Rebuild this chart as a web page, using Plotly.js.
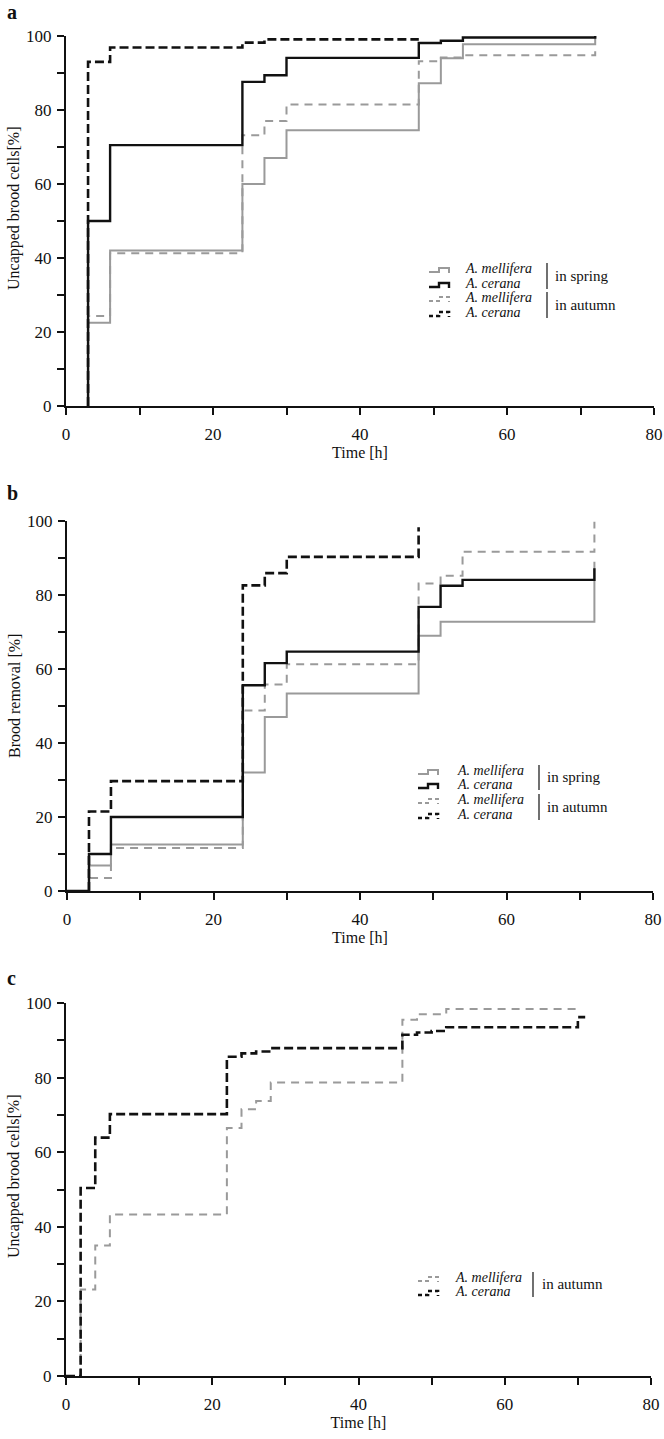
<!DOCTYPE html>
<html>
<head>
<meta charset="utf-8">
<script src="https://cdn.plot.ly/plotly-3.0.1.min.js"></script>
<style>html,body{margin:0;padding:0;background:#fff;}#chart{width:664px;height:1439px;}</style>
</head>
<body>
<div id="chart"></div>
<script>
// ---------- data ----------
const xTickVals = [0, 20, 40, 60, 80];
const yTickVals = [0, 20, 40, 60, 80, 100];
const seriesNames = ["A. mellifera", "A. cerana"];
const seasonLabels = ["in spring", "in autumn"];
const panelLabels = ["a", "b", "c"];
const yTitles = ["Uncapped brood cells[%]", "Brood removal [%]", "Uncapped brood cells[%]"];
const xTitle = "Time [h]";

// Panel a – uncapping
const aMelSpringX = [3, 3, 6, 24, 27, 30, 48, 51, 54, 72, 72];
const aMelSpringY = [0, 22.5, 42, 60, 67, 74.5, 87.2, 94, 97.8, 97.8, 100];
const aCerSpringX = [3, 3, 6, 24, 27, 30, 48, 51, 54, 72, 72];
const aCerSpringY = [0, 50, 70.5, 87.6, 89.4, 94.1, 98.1, 98.7, 99.6, 99.6, 100];
const aMelAutumnX = [3, 3, 6, 24, 27, 30, 48, 51, 54, 72, 72];
const aMelAutumnY = [0, 24.3, 41.3, 73.2, 77, 81.5, 93.2, 94.2, 94.8, 94.8, 96];
const aCerAutumnX = [3, 3, 6, 24, 27, 48];
const aCerAutumnY = [0, 93, 96.9, 98.2, 99.1, 99.1];

// Panel b – removal
const bMelSpringX = [3, 3, 6, 24, 27, 30, 48, 51, 72, 72];
const bMelSpringY = [0, 6.9, 12.6, 32, 47, 53.4, 69, 72.8, 72.8, 89];
const bCerSpringX = [0, 3, 6, 24, 27, 30, 48, 51, 54, 72, 72];
const bCerSpringY = [0, 10, 20, 55.6, 61.6, 64.7, 76.8, 82.5, 84.1, 84.1, 87.2];
const bMelAutumnX = [3, 3, 6, 24, 27, 30, 48, 51, 54, 72, 72];
const bMelAutumnY = [0, 3.5, 11.6, 48.8, 55.8, 61.3, 83.1, 85.2, 91.7, 91.7, 99.8];
const bCerAutumnX = [3, 3, 6, 24, 27, 30, 48, 48];
const bCerAutumnY = [0, 21.5, 29.7, 82.6, 85.9, 90.3, 90.3, 98.3];

// Panel c – uncapping (autumn)
const cMelAutumnX = [2, 2, 4, 6, 22, 24, 26, 28, 46, 48, 52, 70];
const cMelAutumnY = [0, 23.2, 35, 43.3, 66.5, 71.5, 73.7, 78.7, 95.5, 97, 98.4, 98.4];
const cCerAutumnX = [0, 2, 2, 4, 6, 22, 24, 26, 28, 46, 48, 50, 52, 70, 71];
const cCerAutumnY = [0, 0, 50.4, 63.9, 70.2, 85.6, 86.5, 87, 87.9, 91.5, 92.1, 92.5, 93.5, 96.2, 96.2];

// ---------- styles ----------
const GRAY = "#9a9a9a", BLACK = "#111111";
const FONT = "Liberation Serif";
const styles = {
  melSpring: {color: GRAY, width: 2, dash: "solid"},
  cerSpring: {color: BLACK, width: 2.4, dash: "solid"},
  melAutumn: {color: GRAY, width: 2, dash: "8px,6px"},
  cerAutumn: {color: BLACK, width: 2.6, dash: "9px,4px"}
};

function tr(x, y, st, ax, name) {
  return {x: x, y: y, type: "scatter", mode: "lines", name: name,
    xaxis: "x" + ax, yaxis: "y" + ax, showlegend: false, hoverinfo: "skip",
    line: {shape: "hv", color: st.color, width: st.width, dash: st.dash}};
}

const data = [
  tr(aMelSpringX, aMelSpringY, styles.melSpring, "", "A. mellifera spring"),
  tr(aMelAutumnX, aMelAutumnY, styles.melAutumn, "", "A. mellifera autumn"),
  tr(aCerSpringX, aCerSpringY, styles.cerSpring, "", "A. cerana spring"),
  tr(aCerAutumnX, aCerAutumnY, styles.cerAutumn, "", "A. cerana autumn"),
  tr(bMelSpringX, bMelSpringY, styles.melSpring, "2", "A. mellifera spring"),
  tr(bMelAutumnX, bMelAutumnY, styles.melAutumn, "2", "A. mellifera autumn"),
  tr(bCerSpringX, bCerSpringY, styles.cerSpring, "2", "A. cerana spring"),
  tr(bCerAutumnX, bCerAutumnY, styles.cerAutumn, "2", "A. cerana autumn"),
  tr(cMelAutumnX, cMelAutumnY, styles.melAutumn, "3", "A. mellifera autumn"),
  tr(cCerAutumnX, cCerAutumnY, styles.cerAutumn, "3", "A. cerana autumn")
];

// ---------- layout helpers (pixel -> paper) ----------
const W = 664, H = 1439;
const PX = p => p / W;
const PY = p => 1 - p / H;

function xAxis(domL, domR, anchor) {
  return {domain: [PX(domL), PX(domR)], anchor: anchor, range: [0, 80],
    tickvals: xTickVals, ticktext: xTickVals.map(String),
    showline: true, linecolor: BLACK, linewidth: 2.2, mirror: false,
    ticks: "outside", ticklen: 7, tickwidth: 2, tickcolor: BLACK,
    minor: {tickvals: [10, 30, 50, 70], ticks: "outside", ticklen: 7, tickwidth: 2, tickcolor: BLACK},
    ticklabelstandoff: 4,
    showgrid: false, zeroline: false, fixedrange: true,
    tickfont: {family: FONT, size: 17, color: BLACK},
    title: {text: xTitle, font: {family: FONT, size: 16, color: BLACK}, standoff: 4}};
}
function yAxis(topPx, botPx, anchor) {
  return {domain: [PY(botPx), PY(topPx)], anchor: anchor, range: [0, 100],
    tickvals: yTickVals, ticktext: yTickVals.map(String),
    showline: true, linecolor: BLACK, linewidth: 2.2,
    ticks: "outside", ticklen: 7, tickwidth: 2, tickcolor: BLACK,
    minor: {tickvals: [10, 30, 50, 70, 90], ticks: "outside", ticklen: 7, tickwidth: 2, tickcolor: BLACK},
    ticklabelstandoff: 2,
    showgrid: false, zeroline: false, fixedrange: true,
    tickfont: {family: FONT, size: 17, color: BLACK}};
}

const panels = [
  {top: 36, bot: 406, l: 66, r: 654, letterY: 12, ytitleY: 208,
   leg: {gx: 429, tx: 463, bx: 547, lx: 553, rows: [268, 283, 297, 312], seasons: [0, 1]}},
  {top: 521, bot: 891, l: 67, r: 653, letterY: 493, ytitleY: 696,
   leg: {gx: 418, tx: 455, bx: 539, lx: 545, rows: [770, 784, 799, 814], seasons: [0, 1]}},
  {top: 1003, bot: 1376, l: 66, r: 651, letterY: 978, ytitleY: 1176,
   leg: {gx: 418, tx: 453, bx: 533, lx: 540, rows: [1277, 1291], seasons: [1]}}
];

const shapes = [], annotations = [];
const legStyles = [[styles.melSpring, styles.cerSpring], [styles.melAutumn, styles.cerAutumn]];

panels.forEach((p, i) => {
  annotations.push({text: "<b>" + panelLabels[i] + "</b>", xref: "paper", yref: "paper",
    x: PX(5), y: PY(p.letterY), xanchor: "left", yanchor: "middle", showarrow: false,
    font: {family: FONT, size: 20, color: BLACK}});
  annotations.push({text: yTitles[i], xref: "paper", yref: "paper", textangle: -90,
    x: PX(14), y: PY(p.ytitleY), xanchor: "center", yanchor: "middle", showarrow: false,
    font: {family: FONT, size: 16, color: BLACK}});
  const L = p.leg;
  L.seasons.forEach((s, k) => {
    const rowA = L.rows[k * 2], rowB = L.rows[k * 2 + 1];
    [rowA, rowB].forEach((ty, j) => {
      const st = legStyles[s][j];
      shapes.push({type: "path", xref: "paper", yref: "paper",
        path: "M " + PX(L.gx) + " " + PY(ty + 4) + " L " + PX(L.gx + 10) + " " + PY(ty + 4) +
              " L " + PX(L.gx + 10) + " " + PY(ty) + " L " + PX(L.gx + 20) + " " + PY(ty) +
              " L " + PX(L.gx + 20) + " " + PY(ty + 5),
        line: {color: st.color, width: st.width, dash: st.dash === "solid" ? "solid" : "4px,3px"}});
      annotations.push({text: "<i>" + seriesNames[j] + "</i>", xref: "paper", yref: "paper",
        x: PX(L.tx), y: PY(ty), xanchor: "left", yanchor: "middle", showarrow: false,
        font: {family: FONT, size: 14, color: BLACK}});
    });
    shapes.push({type: "line", xref: "paper", yref: "paper",
      x0: PX(L.bx), x1: PX(L.bx), y0: PY(rowA - 5), y1: PY(rowB + 6),
      line: {color: BLACK, width: 1.2}});
    annotations.push({text: seasonLabels[s], xref: "paper", yref: "paper",
      x: PX(L.lx), y: PY((rowA + rowB) / 2), xanchor: "left", yanchor: "middle", showarrow: false,
      font: {family: FONT, size: 15, color: BLACK}});
  });
});

const layout = {
  width: W, height: H, margin: {l: 0, r: 0, t: 0, b: 0},
  paper_bgcolor: "#ffffff", plot_bgcolor: "#ffffff", showlegend: false,
  font: {family: FONT, color: BLACK},
  xaxis: xAxis(panels[0].l, panels[0].r, "y"),
  yaxis: yAxis(panels[0].top, panels[0].bot, "x"),
  xaxis2: xAxis(panels[1].l, panels[1].r, "y2"),
  yaxis2: yAxis(panels[1].top, panels[1].bot, "x2"),
  xaxis3: xAxis(panels[2].l, panels[2].r, "y3"),
  yaxis3: yAxis(panels[2].top, panels[2].bot, "x3"),
  shapes: shapes, annotations: annotations
};

Plotly.newPlot("chart", data, layout, {staticPlot: true, displayModeBar: false});
</script>
</body>
</html>
